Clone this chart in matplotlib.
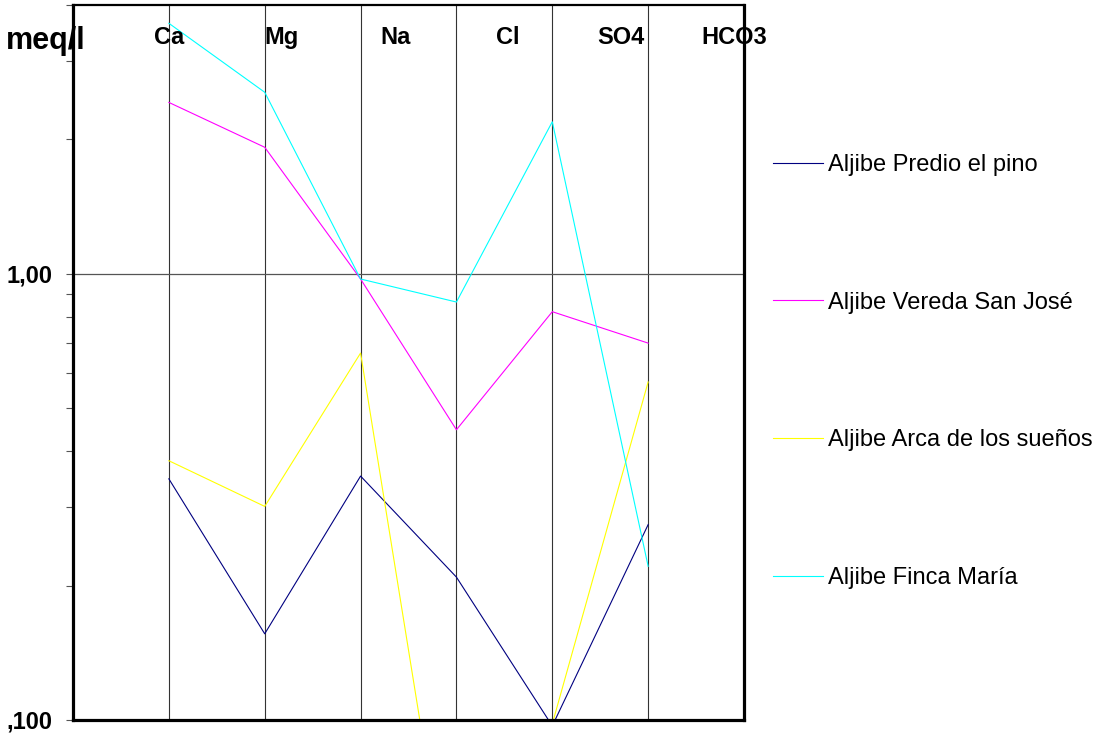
import numpy as np
import matplotlib
matplotlib.use("Agg")
import matplotlib.pyplot as plt
from matplotlib.ticker import FixedLocator, FuncFormatter, NullFormatter

plt.rcParams['font.family'] = ['Liberation Sans', 'DejaVu Sans']

ions = ['Ca', 'Mg', 'Na', 'Cl', 'SO4', 'HCO3']
names = ['Aljibe Predio el pino', 'Aljibe Vereda San José',
         'Aljibe Arca de los sueños', 'Aljibe Finca María']
predio = [0.347, 0.156, 0.352, 0.209, 0.097, 0.274]
vereda = [2.42, 1.92, 0.973, 0.447, 0.822, 0.699]
arca = [0.381, 0.301, 0.664, 0.031, 0.098, 0.572]
finca = [3.64, 2.55, 0.973, 0.864, 2.19, 0.221]
colors = ['#000080', '#ff00ff', '#ffff00', '#00ffff']

W, H = 1099, 735
fig = plt.figure(figsize=(W/100, H/100), dpi=100)
ax = fig.add_axes([73/W, (H-720)/H, 671/W, 715/H])

x = np.arange(1, len(ions)+1)
lines = []
for vals, c, n in zip([predio, vereda, arca, finca], colors, names):
    ln, = ax.plot(x, vals, color=c, lw=0.8, label=n)
    lines.append(ln)

ax.set_yscale('log')
ax.set_ylim(0.1, 4)
ax.set_xlim(0, 7)

# grid: vertical at each ion, horizontal at 1,00
for xi in x:
    ax.axvline(xi, color='#333333', lw=0.8, zorder=0)
ax.axhline(1.0, color='#555555', lw=0.9, zorder=0)

ax.yaxis.set_major_locator(FixedLocator([0.1, 1.0]))
ax.yaxis.set_minor_locator(FixedLocator(
    [v/10 for v in range(2, 10)] + [2, 3, 4]))
ax.yaxis.set_major_formatter(FuncFormatter(
    lambda v, p: ',100' if v < 0.5 else '1,00'))
ax.yaxis.set_minor_formatter(NullFormatter())
ax.tick_params(axis='y', which='both', direction='out', length=5,
               color='#555555', width=0.8, labelsize=17, pad=10)
for lab in ax.get_yticklabels():
    lab.set_fontweight('bold')
ax.set_xticks([])

for side in ['left', 'right', 'bottom']:
    ax.spines[side].set_linewidth(2.3)
ax.spines['top'].set_linewidth(1.6)

# ion labels along the top (offset from the grid lines as in the original)
for i, ion in enumerate(ions):
    ax.text(1 + i*1.18, 0.955, ion, transform=ax.get_xaxis_transform(),
            ha='center', va='center', fontsize=17, fontweight='bold')

fig.text(46/W, 1 - 41/H, 'meq/l', ha='center', va='center',
         fontsize=22, fontweight='bold')

fig.legend(handles=lines, loc='center left',
           bbox_to_anchor=(773/W, 1 - 371.5/H), frameon=False,
           fontsize=17, handlelength=2.1, handletextpad=0.25,
           labelspacing=4.9, borderpad=0, borderaxespad=0)

fig.savefig('out.png', dpi=100)
